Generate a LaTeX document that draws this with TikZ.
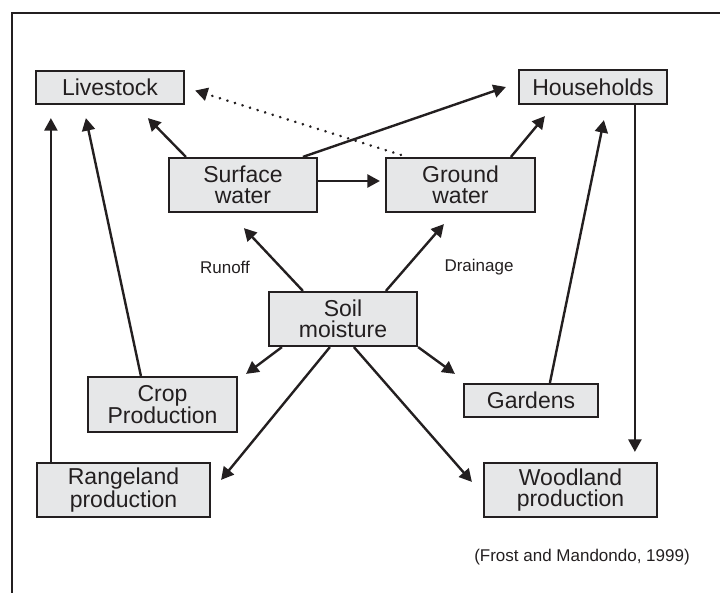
\documentclass[tikz,border=0pt]{standalone}
\usepackage{fontspec}
\setmainfont{Liberation Sans}
\usetikzlibrary{calc,arrows.meta}
\definecolor{ink}{HTML}{231F20}
\definecolor{boxfill}{HTML}{E6E7E8}
\begin{document}
\begin{tikzpicture}[x=1pt,y=-1pt,
  box/.style={draw=ink,fill=boxfill,line width=2.2pt,inner sep=0pt,
    align=center,text=ink,font=\fontsize{23}{21}\selectfont},
  arr/.style={draw=ink,line width=2.4pt,-{Triangle[length=12.5pt,width=13pt]}},
  dotarr/.style={arr,line cap=round,dash pattern=on 0.1pt off 7.8pt,line width=2.8pt},
  note/.style={text=ink,font=\fontsize{17}{19}\selectfont,inner sep=0pt}]
\useasboundingbox (0,0) rectangle (720,592);
% open frame
\draw[ink,line width=2.8pt] (12,600) -- (12,13) -- (730,13);

% boxes
\node[box,minimum width=148pt,minimum height=33pt] (L) at (110,87.5) {Livestock};
\node[box,minimum width=148pt,minimum height=34pt] (H) at (593,87) {Households};
\node[box,minimum width=148pt,minimum height=54pt] (S) at (243,185) {Surface\\water};
\node[box,minimum width=149pt,minimum height=54pt] (G) at (460.5,185) {Ground\\water};
\node[box,minimum width=148pt,minimum height=54pt] (M) at (343,319) {Soil\\moisture};
\node[box,minimum width=149pt,minimum height=55pt] (C) at (162.5,404.5) {Crop\\Production};
\node[box,minimum width=173pt,minimum height=54pt] (R) at (123.5,490) {Rangeland\\production};
\node[box,minimum width=134pt,minimum height=33pt] (D) at (531,400.5) {Gardens};
\node[box,minimum width=173pt,minimum height=54pt] (W) at (570.5,490) {Woodland\\production};

% labels
\node[note] (runoff) at (225,267) {Runoff};
\node[note] (drain) at (479,267) {Drainage};
\node[note] (src) at (582,557) {(Frost and Mandondo, 1999)};

% connectors
\draw[arr] ($(S.north west)+(18,0)$) -- ($(L.south west)+(113,13)$);
\draw[dotarr] ($(G.north west)+(16,-2)$) -- ($(L.east)+(10,3)$);
\draw[arr] ($(S.north west)+(135,0)$) -- ($(H.west)+(-12,0)$);
\draw[arr] ($(S.east)+(0,-4)$) -- ($(G.west)+(-5,-4)$);
\draw[arr] ($(G.north west)+(126,0)$) -- ($(H.south west)+(27,11)$);
\draw[arr] ($(M.north west)+(35,0)$) -- ($(S.south west)+(76,15)$);
\draw[arr] ($(M.north west)+(118,0)$) -- ($(G.south west)+(59,11)$);
\draw[arr] ($(M.south west)+(14,0)$) -- ($(C.north east)+(8,-2)$);
\draw[arr] ($(M.south west)+(62,0)$) -- ($(R.north east)+(10,18)$);
\draw[arr] (M.south east) -- ($(D.north west)+(-8,-9)$);
\draw[arr] ($(M.south west)+(86,0)$) -- ($(W.north west)+(-11,20)$);
\draw[arr] ($(C.north west)+(54,0)$) -- ($(L.south west)+(51,13)$);
\draw[arr] ($(R.north west)+(15,0)$) -- ($(L.south west)+(16,13)$);
\draw[arr] ($(D.north west)+(87,0)$) -- ($(H.south west)+(86,15)$);
\draw[arr] ($(H.south west)+(117,0)$) -- ($(W.north west)+(152,-10)$);
\end{tikzpicture}
\end{document}
